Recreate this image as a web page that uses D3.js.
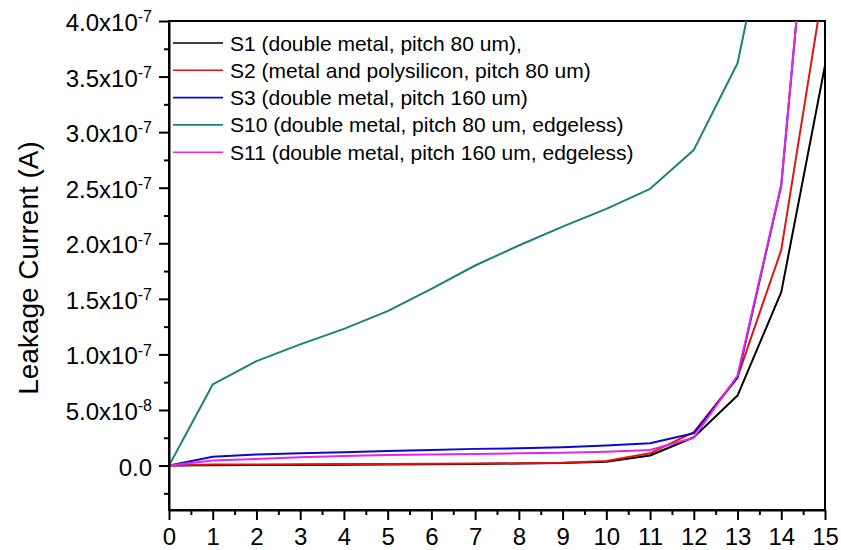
<!DOCTYPE html>
<html>
<head>
<meta charset="utf-8">
<script src="https://cdn.jsdelivr.net/npm/d3@7"></script>
<style>
  body { margin: 0; background: #fff; }
  svg { font-family: "Liberation Sans", Arial, sans-serif; }
</style>
</head>
<body>
<svg id="chart" width="841" height="550"></svg>
<script>
// bias voltage steps
const voltage = [0, 1, 2, 3, 4, 5, 6, 7, 8, 9, 10, 11, 12, 13, 14, 15];

// leakage current, units of 1e-8 A
const s1 = [0, 0.02, 0.04, 0.06, 0.08, 0.1, 0.12, 0.15, 0.18, 0.22, 0.35, 0.9, 2.55, 6.3, 15.6, 36.0];
const s2 = [0, 0.1, 0.1, 0.12, 0.14, 0.15, 0.17, 0.18, 0.2, 0.25, 0.4, 1.1, 3.0, 7.95, 19.4, 44];
const s3 = [0, 0.8, 1.0, 1.1, 1.2, 1.3, 1.4, 1.5, 1.55, 1.65, 1.8, 2.0, 2.9, 7.9, 25.2, 68];
const s10 = [0, 7.3, 9.4, 10.9, 12.3, 13.9, 15.9, 18.0, 19.8, 21.5, 23.1, 24.9, 28.4, 36.2, 55];
const s11 = [0, 0.45, 0.6, 0.75, 0.85, 0.95, 1.0, 1.05, 1.1, 1.15, 1.25, 1.4, 2.5, 8.1, 25.3, 68];

const seriesNames = [
  "S1 (double metal, pitch 80 um),",
  "S2 (metal and polysilicon, pitch 80 um)",
  "S3 (double metal, pitch 160 um)",
  "S10 (double metal, pitch 80 um, edgeless)",
  "S11 (double metal, pitch 160 um, edgeless)"
];
const seriesColors = ["#000000", "#e01414", "#0a0ac8", "#1a8276", "#e626e6"];

// y ticks in A; label mantissa + exponent
const yTicks = [0, 5e-8, 1e-7, 1.5e-7, 2e-7, 2.5e-7, 3e-7, 3.5e-7, 4e-7];
const yTickMantissa = ["0.0", "5.0x10", "1.0x10", "1.5x10", "2.0x10", "2.5x10", "3.0x10", "3.5x10", "4.0x10"];
const yTickExp = ["", "-8", "-7", "-7", "-7", "-7", "-7", "-7", "-7"];

const margin = { top: 21, right: 16, bottom: 40, left: 169 };
const width = 841 - margin.left - margin.right;
const height = 550 - margin.top - margin.bottom;

const svg = d3.select("#chart");
const ctr = svg.append("g").attr("transform", `translate(${margin.left},${margin.top})`);

const xScale = d3.scaleLinear().domain([0, 15]).range([0, width]);
const yScale = d3.scaleLinear().domain([-4e-8, 4e-7]).range([height, 0]);

// clip lines to the frame
svg.append("defs").append("clipPath").attr("id", "plot-clip")
  .append("rect").attr("width", width).attr("height", height);

// frame (top/right)
ctr.append("rect")
  .attr("width", width).attr("height", height)
  .attr("fill", "none").attr("stroke", "#000").attr("stroke-width", 2);

// series lines
const allSeries = [s1, s2, s3, s10, s11];
const line = d3.line()
  .x((d, i) => xScale(voltage[i]))
  .y((d) => yScale(d * 1e-8));

const lineG = ctr.append("g").attr("clip-path", "url(#plot-clip)");
allSeries.forEach((s, k) => {
  lineG.append("path")
    .datum(s)
    .attr("d", line)
    .attr("fill", "none")
    .attr("stroke", seriesColors[k])
    .attr("stroke-width", 2)
    .attr("stroke-linejoin", "round");
});

// x axis: major + minor ticks
const xAxisG = ctr.append("g").attr("transform", `translate(0,${height})`);
xAxisG.append("g")
  .call(d3.axisBottom(xScale).tickValues(d3.range(0.5, 15, 1)).tickSize(5).tickFormat(""))
  .call((g) => g.select(".domain").remove());
xAxisG.append("g")
  .call(d3.axisBottom(xScale).tickValues(voltage).tickSize(10).tickPadding(8).tickSizeOuter(0))
  .call((g) => g.selectAll("text").attr("font-size", 24).attr("fill", "#000"));
xAxisG.selectAll("line").attr("stroke", "#000").attr("stroke-width", 2);
xAxisG.select(".domain").attr("stroke", "#000").attr("stroke-width", 2);

// y axis: major + minor ticks
const yAxisG = ctr.append("g");
yAxisG.append("g")
  .call(d3.axisLeft(yScale).tickValues(d3.range(-2.5e-8, 4e-7, 5e-8)).tickSize(5).tickFormat(""))
  .call((g) => g.select(".domain").remove());
yAxisG.append("g")
  .call(d3.axisLeft(yScale).tickValues(yTicks).tickSize(10).tickSizeOuter(0).tickFormat(""));
yAxisG.selectAll("line").attr("stroke", "#000").attr("stroke-width", 2);
yAxisG.select(".domain").attr("stroke", "#000").attr("stroke-width", 2);

// y tick labels with superscript exponent
const yLab = yAxisG.append("g").selectAll("text")
  .data(yTicks)
  .join("text")
  .attr("x", -17)
  .attr("y", (d) => yScale(d))
  .attr("dy", "0.42em")
  .attr("text-anchor", "end")
  .attr("font-size", 24)
  .attr("fill", "#000");
yLab.append("tspan").text((d, i) => yTickMantissa[i]);
yLab.append("tspan")
  .attr("font-size", 16)
  .attr("dy", "-0.55em")
  .text((d, i) => yTickExp[i]);

// y axis title
svg.append("text")
  .attr("transform", "translate(38,268) rotate(-90)")
  .attr("text-anchor", "middle")
  .attr("font-size", 28)
  .attr("fill", "#000")
  .text("Leakage Current (A)");

// legend
const legend = ctr.append("g").attr("transform", "translate(4,22)");
seriesNames.forEach((name, k) => {
  const row = legend.append("g").attr("transform", `translate(0,${k * 27.3})`);
  row.append("line")
    .attr("x1", 0).attr("x2", 50)
    .attr("stroke", seriesColors[k]).attr("stroke-width", 1.6);
  row.append("text")
    .attr("x", 57).attr("dy", "0.36em")
    .attr("font-size", 21).attr("fill", "#000")
    .text(name);
});
</script>
</body>
</html>
